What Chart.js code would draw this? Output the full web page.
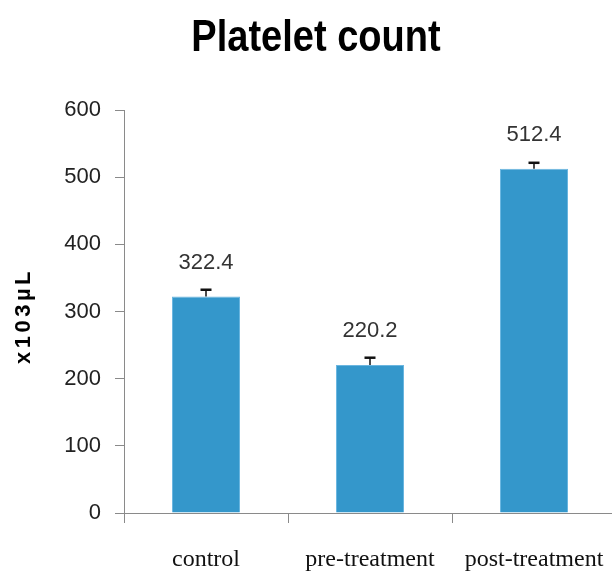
<!DOCTYPE html>
<html>
<head>
<meta charset="utf-8">
<script src="https://cdn.jsdelivr.net/npm/chart.js@4/dist/chart.umd.min.js"></script>
<style>
  html, body { margin: 0; padding: 0; background: #fff; overflow: hidden; }
  #wrap { width: 612px; height: 575px; position: relative; overflow: hidden; }
</style>
</head>
<body>
<div id="wrap"><canvas id="chart" width="617" height="575"></canvas></div>
<script>
// Platelet count by group (mean with upper error bar)
const categories = ['control', 'pre-treatment', 'post-treatment'];
const plateletMeans = [322.4, 220.2, 512.4];
const plateletErrors = [10, 11, 9];
const yTickValues = [0, 100, 200, 300, 400, 500, 600];

const chartTitle = 'Platelet count';
const yAxisTitle = 'x103µL';

const barColor = '#3497CB';
const axisColor = '#8a8a8a';

// Title drawn with a narrowed, tall bold face
const titlePlugin = {
  id: 'narrowTitle',
  afterDraw(chart) {
    const ctx = chart.ctx;
    ctx.save();
    ctx.font = 'bold 45px "Liberation Sans", Arial, sans-serif';
    ctx.fillStyle = '#000';
    ctx.textAlign = 'center';
    ctx.textBaseline = 'alphabetic';
    ctx.translate(316, 51);
    ctx.scale(0.845, 1);
    ctx.fillText(chartTitle, 0, 0);
    ctx.restore();
  }
};

// Rotated, letter-spaced y-axis title
const yTitlePlugin = {
  id: 'yTitle',
  afterDraw(chart) {
    const ctx = chart.ctx;
    ctx.save();
    ctx.font = 'bold 22px "Liberation Sans", Arial, sans-serif';
    ctx.fillStyle = '#000';
    if ('letterSpacing' in ctx) ctx.letterSpacing = '3.5px';
    ctx.textAlign = 'left';
    ctx.textBaseline = 'middle';
    const w = ctx.measureText(yAxisTitle).width;
    ctx.translate(24, 318);
    ctx.rotate(-Math.PI / 2);
    ctx.fillText(yAxisTitle, -w / 2 + 2, 0);
    ctx.restore();
  }
};

// Upper error bars and value labels above each bar
const barExtrasPlugin = {
  id: 'barExtras',
  afterDatasetsDraw(chart) {
    const ctx = chart.ctx;
    const yScale = chart.scales.y;
    const meta = chart.getDatasetMeta(0);
    ctx.save();
    meta.data.forEach((bar, i) => {
      const x = bar.x;
      const top = yScale.getPixelForValue(plateletMeans[i]);
      const capY = yScale.getPixelForValue(plateletMeans[i] + plateletErrors[i]);
      ctx.strokeStyle = '#111';
      ctx.lineWidth = 1.5;
      ctx.beginPath();
      ctx.moveTo(x, top);
      ctx.lineTo(x, capY);
      ctx.stroke();
      ctx.lineWidth = 2.5;
      ctx.beginPath();
      ctx.moveTo(x - 5.5, capY);
      ctx.lineTo(x + 5.5, capY);
      ctx.stroke();

      ctx.font = '22px "Liberation Sans", Arial, sans-serif';
      ctx.fillStyle = '#333';
      ctx.textAlign = 'center';
      ctx.textBaseline = 'middle';
      ctx.fillText(plateletMeans[i].toFixed(1), x, top - 34);
    });
    ctx.restore();
  }
};

new Chart(document.getElementById('chart'), {
  type: 'bar',
  data: {
    labels: categories,
    datasets: [{
      data: plateletMeans,
      backgroundColor: barColor,
      borderColor: '#6bb6e0',
      borderWidth: 1,
      categoryPercentage: 1,
      barPercentage: 0.415
    }]
  },
  options: {
    responsive: false,
    animation: false,
    devicePixelRatio: 1,
    layout: { padding: { top: 110, left: 0, right: 1, bottom: 0 } },
    plugins: {
      legend: { display: false },
      title: { display: false },
      tooltip: { enabled: false }
    },
    scales: {
      x: {
        grid: { drawOnChartArea: false, drawTicks: true, tickLength: 10, color: axisColor, offset: true },
        border: { color: axisColor, width: 1 },
        ticks: {
          font: { family: '"Liberation Serif", "Times New Roman", serif', size: 24 },
          color: '#111',
          padding: 22,
          maxRotation: 0
        },
        afterFit(scale) {
          scale.height = 62;
          scale.paddingLeft = 0;
          scale.paddingRight = 0;
        }
      },
      y: {
        min: 0,
        max: 600,
        afterBuildTicks(scale) { scale.ticks = yTickValues.map(v => ({ value: v })); },
        grid: { drawOnChartArea: false, drawTicks: true, tickLength: 9, color: axisColor },
        border: { color: axisColor, width: 1 },
        ticks: {
          font: { family: '"Liberation Sans", Arial, sans-serif', size: 22 },
          color: '#222',
          padding: 14
        },
        afterFit(scale) { scale.width = 124; }
      }
    }
  },
  plugins: [titlePlugin, yTitlePlugin, barExtrasPlugin]
});
</script>
</body>
</html>
